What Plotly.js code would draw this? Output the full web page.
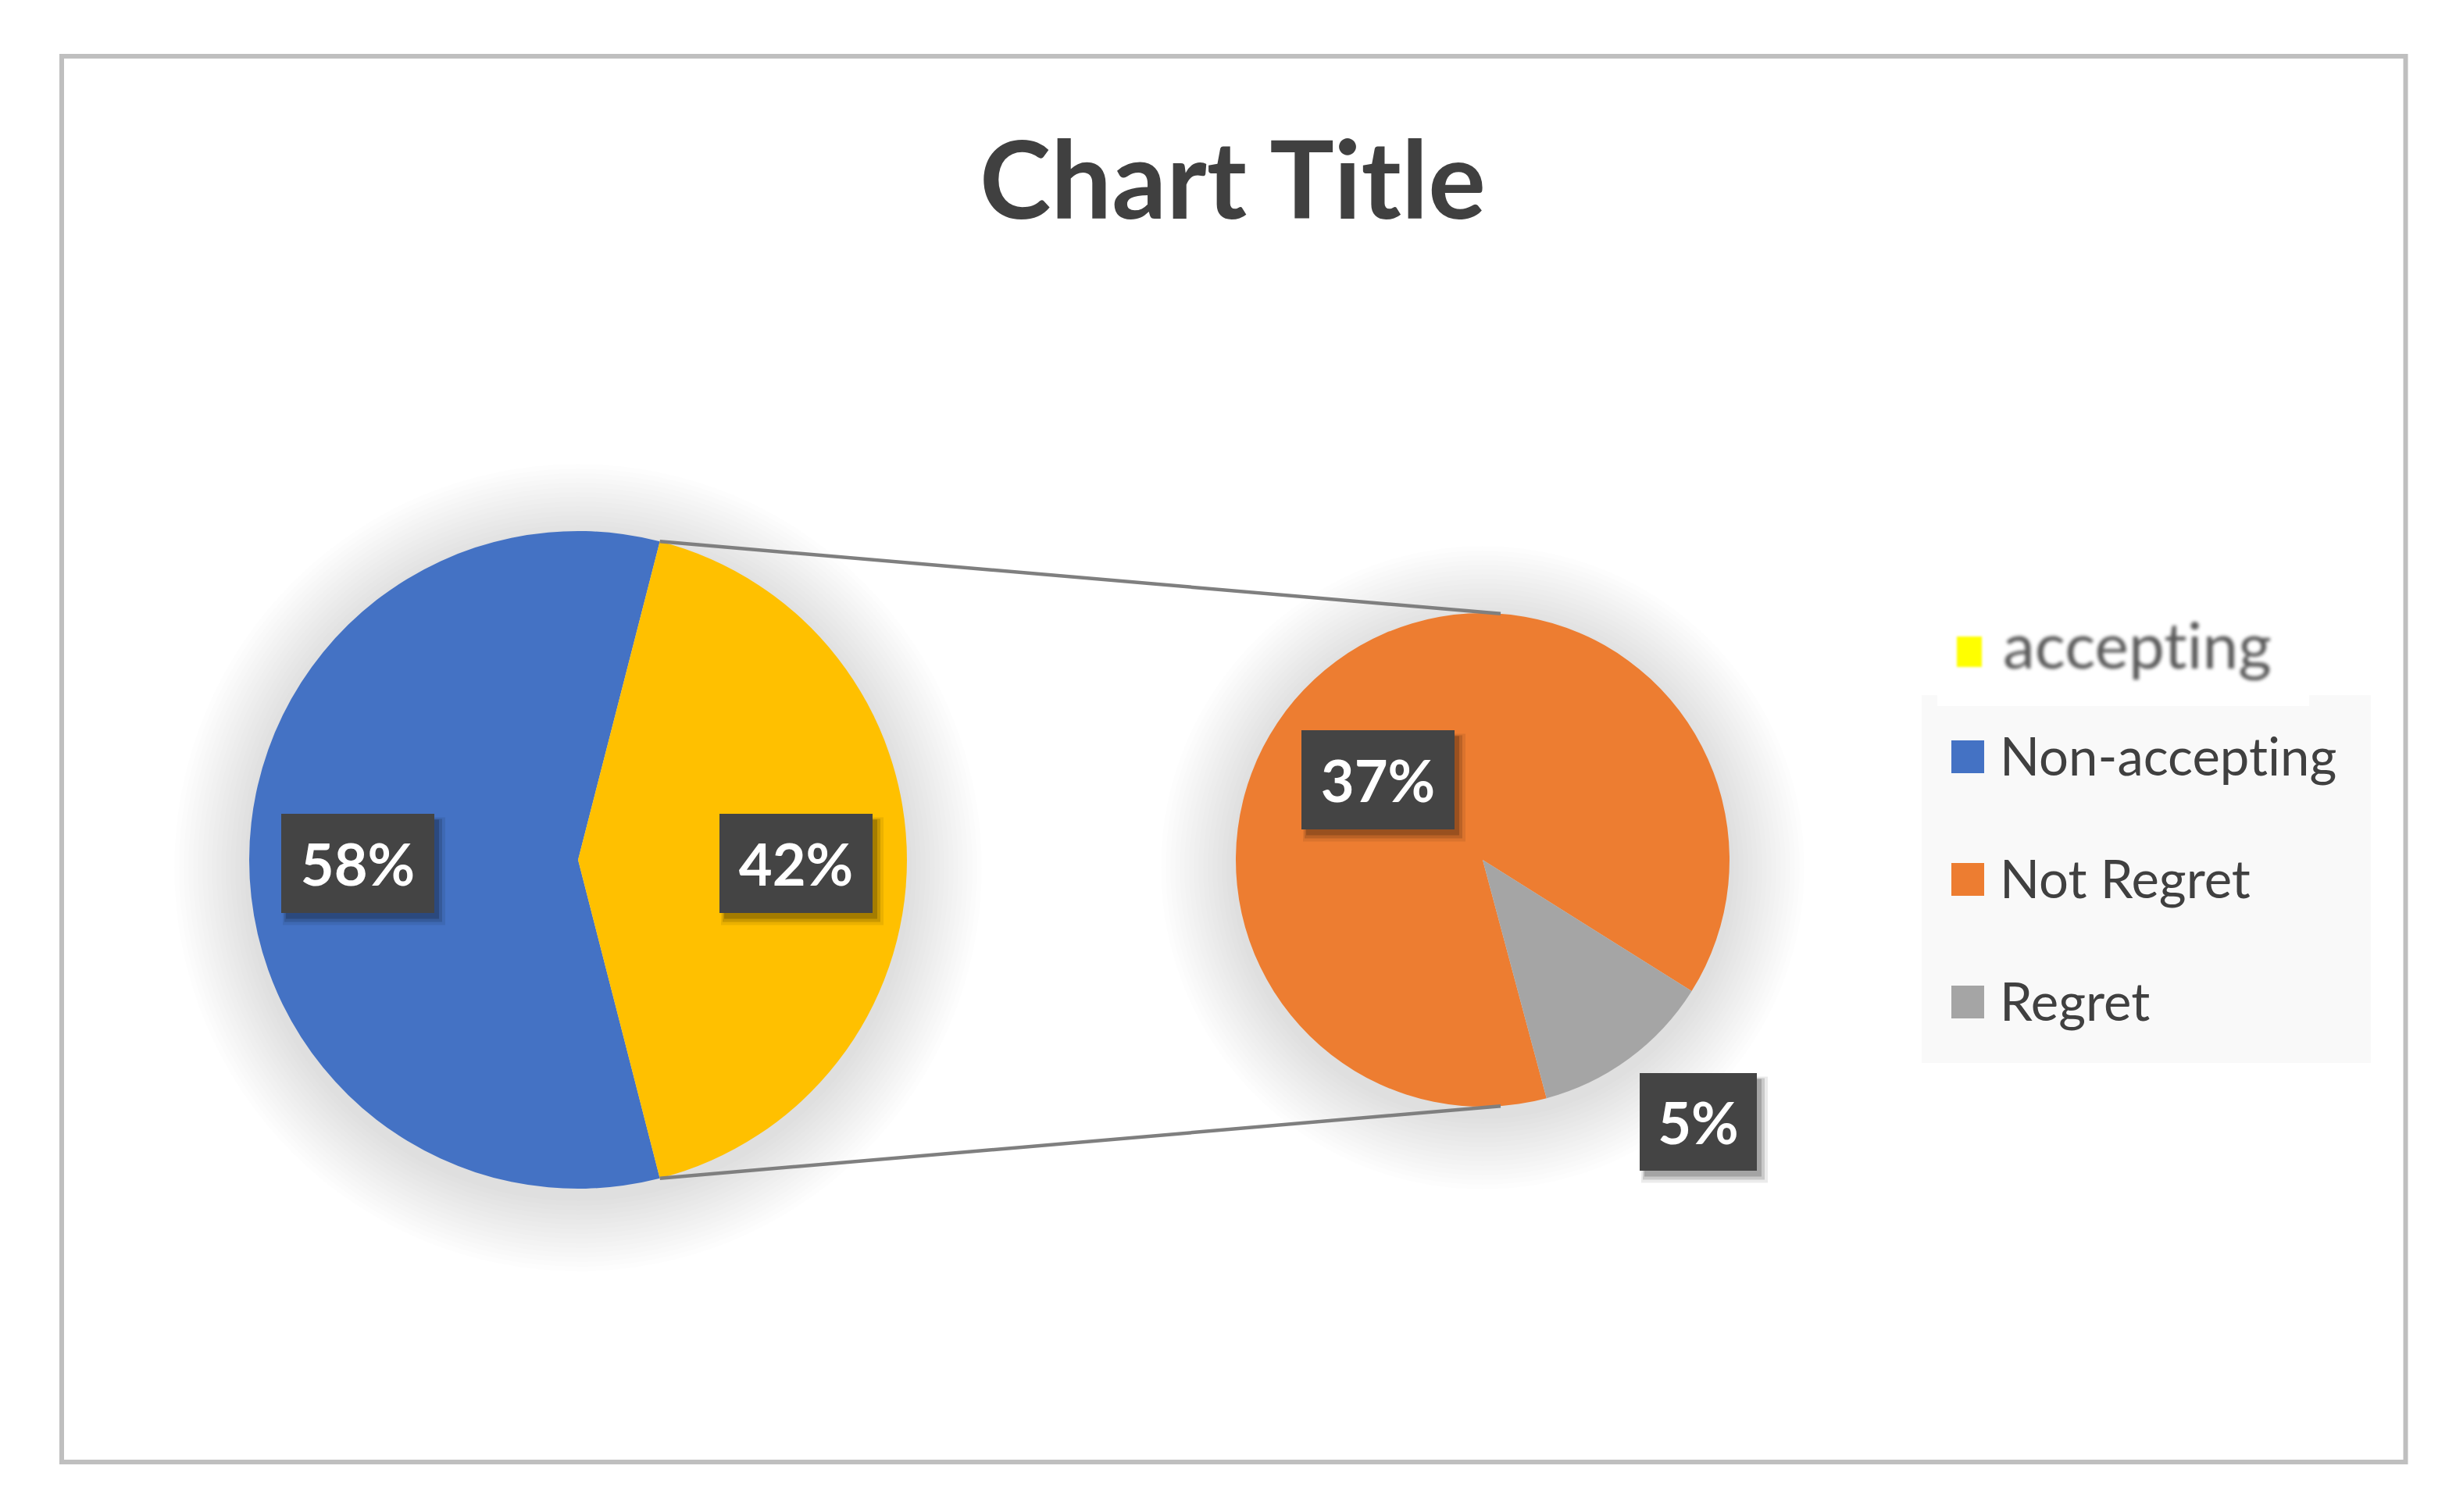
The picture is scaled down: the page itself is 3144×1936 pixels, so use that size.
<!DOCTYPE html>
<html><head><meta charset="utf-8">
<script src="https://cdn.plot.ly/plotly-3.0.1.min.js"></script>
<style>html,body{margin:0;padding:0;background:#fff}#chart{width:3144px;height:1936px}
svg text{font-variant-ligatures:none;font-feature-settings:"liga" 0,"clig" 0}</style>
</head><body><div id="chart"></div>
<script>
// ---- data ----
const chartTitle = 'Chart Title';
const acceptLabels = ['Non-accepting', 'accepting'];
const acceptValues = [58, 42];
const regretLabels = ['Not Regret', 'Regret'];
const regretValues = [37, 5];

// ---- styles / geometry ----
const acceptColors = ['#4472C4', '#FFC000'];
const regretColors = ['#ED7D31', '#A5A5A5'];
const W = 3144, H = 1936;
const px = x => x / W, py = y => 1 - y / H;
const P1 = {cx: 740, cy: 1101, r: 421};
const P2 = {cx: 1898, cy: 1101, r: 316};
const rot1 = 165.6, rot2 = 165;
const dom = p => ({x: [px(p.cx - p.r), px(p.cx + p.r)], y: [py(p.cy + p.r), py(p.cy - p.r)]});

const traces = [
  {type: 'pie', labels: acceptLabels, values: acceptValues, sort: false, direction: 'clockwise',
   rotation: rot1, marker: {colors: acceptColors, line: {width: 0}}, textinfo: 'none',
   showlegend: false, domain: dom(P1), hoverinfo: 'label+value'},
  {type: 'pie', labels: regretLabels, values: regretValues, sort: false, direction: 'clockwise',
   rotation: rot2, marker: {colors: regretColors, line: {width: 0}}, textinfo: 'none',
   showlegend: false, domain: dom(P2), hoverinfo: 'label+value'}
];

const shapes = [];
const annotations = [];
const rect = (x0, y0, x1, y1, o) => Object.assign({type: 'rect', xref: 'paper', yref: 'paper',
  x0: px(x0), x1: px(x1), y0: py(y1), y1: py(y0), line: {width: 0}}, o);

// chart frame
shapes.push(rect(79, 72, 3079.5, 1872, {line: {color: '#BFBFBF', width: 6}, layer: 'below'}));

// soft pie shadows
[P1, P2].forEach(p => {
  for (let k = 96; k >= 2; k -= 6) {
    const oy = 10;
    shapes.push({type: 'circle', xref: 'paper', yref: 'paper', layer: 'below',
      x0: px(p.cx - p.r - k), x1: px(p.cx + p.r + k), y0: py(p.cy + oy + p.r + k), y1: py(p.cy + oy - p.r - k),
      fillcolor: 'rgba(0,0,0,0.0075)', line: {width: 0}});
  }
});

// connector lines from the split slice of pie 1 to pie 2
const tot1 = acceptValues.reduce((a, b) => a + b, 0);
const aTop = (rot1 + 360 * acceptValues[0] / tot1) * Math.PI / 180;
const aBot = rot1 * Math.PI / 180;
const pt = (p, a) => [p.cx + p.r * Math.sin(a), p.cy - p.r * Math.cos(a)];
const dx2 = 23, dy2 = Math.sqrt(P2.r * P2.r - dx2 * dx2);
[[pt(P1, aTop), [P2.cx + dx2, P2.cy - dy2]], [pt(P1, aBot), [P2.cx + dx2, P2.cy + dy2]]].forEach(([a, b]) => {
  shapes.push({type: 'line', xref: 'paper', yref: 'paper', x0: px(a[0]), y0: py(a[1]), x1: px(b[0]), y1: py(b[1]),
    line: {color: '#7F7F7F', width: 4.5}, layer: 'above'});
});

// data labels (dark boxes)
const labelValues = acceptValues.concat(regretValues);
const labelBoxes = [
  {cx: 458, cy: 1105, w: 196, h: 127},
  {cx: 1019, cy: 1105, w: 196, h: 127},
  {cx: 1764, cy: 998, w: 196, h: 127},
  {cx: 2174, cy: 1436, w: 150, h: 125}
];
labelBoxes.forEach((b, i) => {
  const x0 = b.cx - b.w / 2, x1 = b.cx + b.w / 2, y0 = b.cy - b.h / 2, y1 = b.cy + b.h / 2;
  shapes.push(rect(x0 + 2, y0 + 5, x1 + 14, y1 + 16, {fillcolor: 'rgba(0,0,0,0.08)', layer: 'above'}));
  shapes.push(rect(x0 + 4, y0 + 7, x1 + 10, y1 + 12, {fillcolor: 'rgba(0,0,0,0.14)', layer: 'above'}));
  shapes.push(rect(x0 + 6, y0 + 8, x1 + 6, y1 + 8, {fillcolor: 'rgba(0,0,0,0.18)', layer: 'above'}));
  annotations.push({xref: 'paper', yref: 'paper', x: px(b.cx), y: py(b.cy), xanchor: 'center', yanchor: 'middle',
    text: labelValues[i] + '%', showarrow: false, bgcolor: '#444444', borderpad: 0, borderwidth: 0,
    width: b.w, height: b.h, align: 'center', valign: 'middle',
    font: {family: 'Lato, "Open Sans", sans-serif', size: 74, weight: 'bold', color: '#FFFFFF'}});
});

// legend
shapes.push(rect(2460, 890, 3035, 1361, {fillcolor: '#F9F9F9', layer: 'above'}));
shapes.push(rect(2480, 790, 2956, 904, {fillcolor: '#FFFFFF', layer: 'above'}));
const legendLabels = [acceptLabels[0]].concat(regretLabels);
const legendColors = [acceptColors[0]].concat(regretColors);
const legendRowY = [969, 1126, 1283];
legendLabels.forEach((lab, i) => {
  const yc = legendRowY[i];
  shapes.push(rect(2498, yc - 21, 2540, yc + 21, {fillcolor: legendColors[i], layer: 'above'}));
  annotations.push({xref: 'paper', yref: 'paper', x: px(2558), y: py(yc - 2), xanchor: 'left', yanchor: 'middle',
    text: lab, showarrow: false, font: {family: 'Lato, "Open Sans", sans-serif', size: 67, color: '#404040'}});
});
// pasted "accepting" entry
const yellowIdx = shapes.length;
shapes.push(rect(2505, 815, 2537, 854, {fillcolor: '#FFFF00', layer: 'above'}));
const accIdx = annotations.length;
annotations.push({xref: 'paper', yref: 'paper', x: px(2562), y: py(824), xanchor: 'left', yanchor: 'middle',
  text: acceptLabels[1], showarrow: false, font: {family: 'Lato, "Open Sans", sans-serif', size: 82, color: '#5A5A5A'}});

const layout = {
  width: W, height: H,
  margin: {l: 0, r: 0, t: 0, b: 0, pad: 0},
  paper_bgcolor: '#FFFFFF',
  title: {text: chartTitle, x: px(1578), xanchor: 'center', y: py(232), yanchor: 'middle', automargin: false,
    font: {family: 'Lato, "Open Sans", sans-serif', size: 138, weight: 'bold', color: '#404040'}},
  showlegend: false,
  shapes: shapes,
  annotations: annotations
};

Plotly.newPlot('chart', traces, layout, {displayModeBar: false, staticPlot: true}).then(gd => {
  const ann = gd.querySelectorAll('.annotation')[accIdx];
  if (ann) ann.style.filter = 'blur(2px)';
  const sp = gd.querySelector('.shapelayer path[data-index="' + yellowIdx + '"]');
  if (sp) sp.style.filter = 'blur(1.5px)';
});
</script>
</body></html>
